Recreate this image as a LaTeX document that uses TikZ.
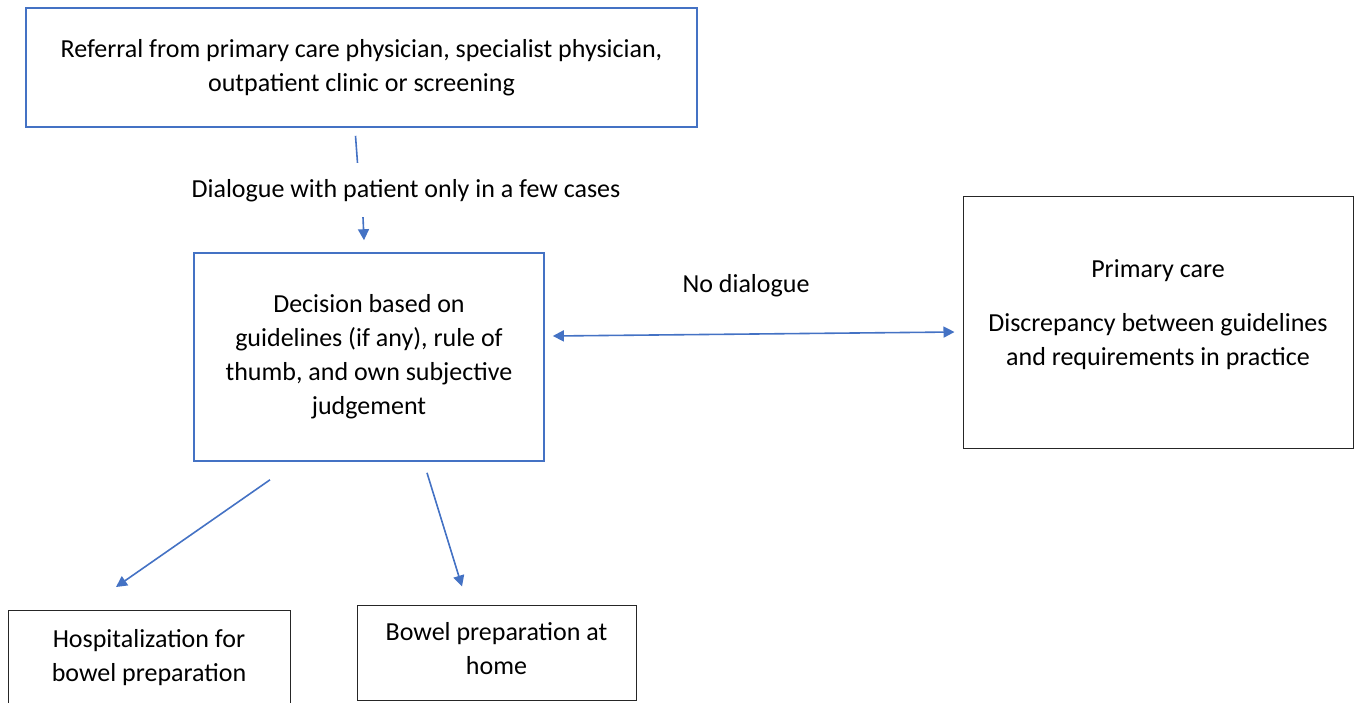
\documentclass[tikz,border=0pt]{standalone}
\usepackage{fontspec}
\setmainfont{Carlito}
\usepackage{tikz}
\usetikzlibrary{arrows.meta,positioning}
\definecolor{OfficeBlue}{RGB}{68, 114, 196}

\begin{document}
\begin{tikzpicture}[
        x=1pt, y=-1pt,
        font=\fontsize{26}{34}\selectfont,
        bluebox/.style={rectangle, draw=OfficeBlue, line width=1.6pt, align=center, inner sep=0pt},
        plainbox/.style={rectangle, draw=black!85, line width=1pt, align=center, inner sep=0pt},
        lbl/.style={align=center, inner sep=2pt},
        link/.style={OfficeBlue, line width=1.6pt},
        arrow/.style={-{Triangle[length=11pt,width=11pt]}, OfficeBlue, line width=1.6pt},
        twoway/.style={{Triangle[length=11pt,width=11pt]}-{Triangle[length=11pt,width=11pt]}, OfficeBlue, line width=1.6pt}
    ]
        \useasboundingbox (0,0) rectangle (1355,702);
        \clip (0,0) rectangle (1355,702);

        \node[bluebox, minimum width=671pt, minimum height=119pt] (referral) at (361.5,67.5)
            {Referral from primary care physician, specialist physician,\\outpatient clinic or screening};
        \node[lbl] (dialogue) at (406,191) {Dialogue with patient only in a few cases};
        \node[bluebox, minimum width=350pt, minimum height=208pt] (decision) at (369,357)
            {Decision based on\\guidelines (if any), rule of\\thumb, and own subjective\\judgement};
        \node[plainbox, minimum width=390pt, minimum height=252pt] (primary) at (1158,322)
            {Primary care\\[20pt]Discrepancy between guidelines\\and requirements in practice\\[-16pt]};
        \node[lbl] (nodialogue) at (746,286) {No dialogue};
        \node[plainbox, anchor=north, minimum width=282pt, minimum height=100pt] (hospital) at (149,610)
            {Hospitalization for\\bowel preparation\\[-24pt]};
        \node[plainbox, minimum width=279pt, minimum height=95pt] (home) at (496.5,652.5)
            {Bowel preparation at\\home\\[-26pt]};

        \draw[link] ([xshift=-6pt,yshift=-8pt]referral.south) -- +(2,27);
        \draw[arrow] ([xshift=-6pt,yshift=35pt]decision.north) -- ([xshift=-5pt,yshift=12pt]decision.north);
        \draw[twoway] ([xshift=8pt,yshift=21pt]decision.east) -- ([xshift=-8pt,yshift=-10pt]primary.west);
        \draw[arrow] ([xshift=-99pt,yshift=-18pt]decision.south) -- ([xshift=-33pt,yshift=23pt]hospital.north);
        \draw[arrow] ([xshift=58pt,yshift=-11pt]decision.south) -- ([xshift=-34.5pt,yshift=18pt]home.north);
    \end{tikzpicture}
\end{document}
